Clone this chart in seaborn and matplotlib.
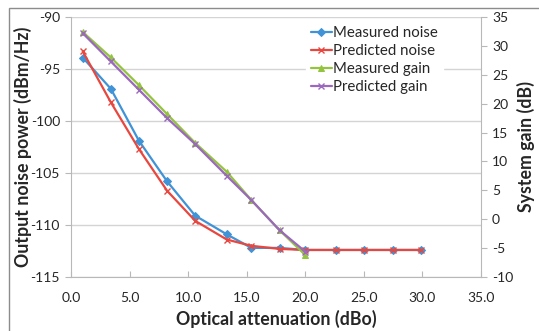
import matplotlib
matplotlib.use("Agg")
import matplotlib.pyplot as plt
import seaborn as sns
from matplotlib.patches import Rectangle
from matplotlib.ticker import FormatStrFormatter

# attenuation values (dBo)
x_noise = [1.0, 3.4, 5.8, 8.2, 10.6, 13.3, 15.4, 17.8, 20.0, 22.6, 25.0, 27.5, 29.9]
x_gain = [1.0, 3.4, 5.8, 8.2, 10.6, 13.3, 15.4, 17.8, 20.0]

measured_noise = [-93.9, -96.9, -101.9, -105.8, -109.1, -110.9, -112.2, -112.2, -112.4, -112.4, -112.4, -112.4, -112.4]
predicted_noise = [-93.3, -98.2, -102.7, -106.7, -109.6, -111.4, -112.0, -112.3, -112.4, -112.4, -112.4, -112.4, -112.4]
measured_gain = [32.4, 28.0, 23.2, 18.2, 13.2, 8.2, 3.3, -1.9, -6.2]
predicted_gain = [32.2, 27.3, 22.4, 17.5, 13.0, 7.5, 3.3, -1.9, -5.6]

x_ticks = [0, 5, 10, 15, 20, 25, 30, 35]
left_ticks = [-115, -110, -105, -100, -95, -90]
right_ticks = [-10, -5, 0, 5, 10, 15, 20, 25, 30, 35]

sns.set_style("white")
plt.rcParams['font.family'] = ['Lato', 'DejaVu Sans']
plt.rcParams['axes.unicode_minus'] = False

c_blue = '#3f93d6'
c_red = '#e8473f'
c_green = '#94c43f'
c_purple = '#9a68bd'
grid_c = '#d4d4d4'
spine_c = '#b8b8b8'

fig = plt.figure(figsize=(5.39, 3.31), dpi=100)
ax = fig.add_axes([71/539, 1-277/331, 410/539, 260/331])
ax2 = ax.twinx()

sns.lineplot(x=x_noise, y=measured_noise, ax=ax, color=c_blue, marker='D', markersize=4,
             markeredgecolor=c_blue, linewidth=1.6, label='Measured noise')
sns.lineplot(x=x_noise, y=predicted_noise, ax=ax, color=c_red, marker='x', markersize=5,
             markeredgecolor=c_red, markeredgewidth=1, linewidth=1.6, label='Predicted noise')
sns.lineplot(x=x_gain, y=measured_gain, ax=ax2, color=c_green, marker='^', markersize=5,
             markeredgecolor=c_green, linewidth=1.6, label='Measured gain')
sns.lineplot(x=x_gain, y=predicted_gain, ax=ax2, color=c_purple, marker='x', markersize=5,
             markeredgecolor=c_purple, markeredgewidth=1, linewidth=1.6, label='Predicted gain')

ax.set_xlim(0, 35)
ax.set_ylim(-115, -90)
ax2.set_ylim(-10, 35)
ax.set_xticks(x_ticks)
ax.xaxis.set_major_formatter(FormatStrFormatter('%.1f'))
ax.set_yticks(left_ticks)
ax2.set_yticks(right_ticks)

ax.yaxis.grid(True, color=grid_c, linewidth=1)
ax.set_axisbelow(True)

for a in (ax, ax2):
    for s in a.spines.values():
        s.set_color(spine_c)
    a.spines['top'].set_visible(False)
ax.spines['right'].set_visible(False)
ax2.spines['left'].set_visible(False)
ax2.spines['bottom'].set_visible(False)

ax.tick_params(axis='y', direction='out', length=4, color=spine_c, labelsize=10, pad=4, left=True)
ax.tick_params(axis='x', direction='in', length=4, color=spine_c, labelsize=10, pad=11, bottom=True)
ax2.tick_params(axis='y', direction='out', length=4, color=spine_c, labelsize=10, pad=4, right=True)

ax.set_xlabel('Optical attenuation (dBo)', fontsize=12.8, fontweight='bold', labelpad=4)
ax.set_ylabel('Output noise power (dBm/Hz)', fontsize=12.8, fontweight='bold')
ax2.set_ylabel('System gain (dB)', fontsize=12.8, fontweight='bold')
ax.yaxis.set_label_coords(-39/410, 0.5)
ax2.yaxis.set_label_coords(1 + 36/410, 0.5)

h1, l1 = ax.get_legend_handles_labels()
h2, l2 = ax2.get_legend_handles_labels()
ax.get_legend().remove()
ax2.get_legend().remove()
leg = ax2.legend(h1 + h2, l1 + l2, loc='upper right', bbox_to_anchor=(0.925, 1.012),
                 frameon=True, fancybox=False, edgecolor='white', facecolor='white',
                 framealpha=1, fontsize=10.8, handlelength=1.4, handletextpad=0.1,
                 labelspacing=0.28, borderpad=0.3)

fig.patches.append(Rectangle((9/539, -0.01), 1.0, 1 - 8/331 + 0.01, transform=fig.transFigure,
                             fill=False, edgecolor='#8c8c8c', linewidth=1))

fig.savefig('out.png', dpi=100)
